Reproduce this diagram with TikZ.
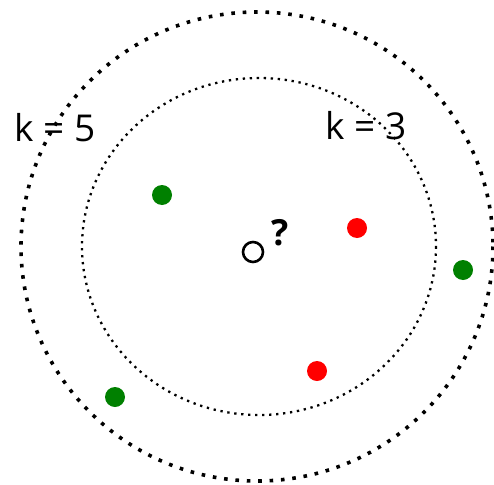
\documentclass[tikz,border=0pt]{standalone}
\usepackage{fontspec}
\setmainfont{Open Sans}
\begin{document}
\begin{tikzpicture}[x=1pt, y=-1pt,
    punkt/.style={circle, inner sep=0pt, minimum size=20pt},
    gruen/.style={punkt, fill=green!50!black},
    rot/.style={punkt, fill=red},
    label/.style={font=\fontsize{37}{40}\selectfont, inner sep=0pt}]

  \useasboundingbox (0,0) rectangle (494,484);

  % Kreise
  \draw[line width=3.6pt, dash pattern=on 3.6pt off 7.8pt] (257,246.5) ellipse (236 and 234.5);
  \draw[line width=2.3pt, dash pattern=on 2.3pt off 4.7pt] (259,246.5) ellipse (177 and 168.5);

  % Beschriftungen
  \node[label] (k5) at (55,128) {k = 5};
  \node[label] (k3) at (366,126) {k = 3};

  % Unbekannter Punkt
  \node[circle, draw, line width=2.6pt, inner sep=0pt, minimum size=20pt] (q) at (253,252) {};
  \node[font=\fontsize{36}{40}\selectfont\bfseries, inner sep=0pt] (frage) at (280,233) {?};

  % Nachbarn
  \node[gruen] (g1) at (162,195) {};
  \node[gruen] (g2) at (463,270) {};
  \node[gruen] (g3) at (115,397) {};
  \node[rot] (r1) at (357,228) {};
  \node[rot] (r2) at (317,371) {};
\end{tikzpicture}
\end{document}
